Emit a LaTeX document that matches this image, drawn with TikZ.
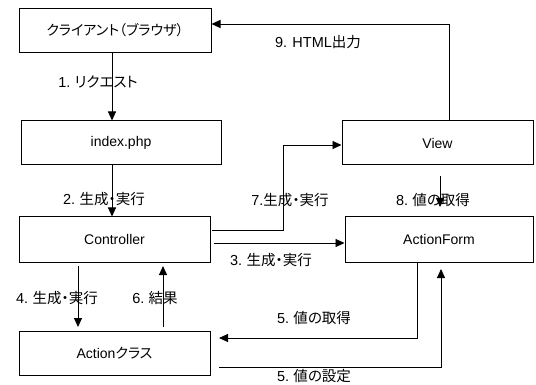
\documentclass[tikz,border=0pt]{standalone}
\usepackage{fontspec}
\setmainfont{Noto Sans CJK JP}[CharacterWidth=AlternateProportional]
\newfontfamily\latfont{Liberation Sans}
\newcommand{\lt}[1]{{\latfont #1}}
\usetikzlibrary{arrows.meta}
\begin{document}
\begin{tikzpicture}[x=1pt,y=-1pt,
  box/.style={draw,line width=1pt,minimum width=#1,minimum height=44pt,inner sep=0pt,font=\fontsize{14}{16}\selectfont},
  box/.default=192pt,
  lbl/.style={inner sep=0pt,font=\fontsize{14.5}{17}\selectfont},
  arr/.style={line width=0.9pt,-{Triangle[length=9pt,width=8pt]}}]
\useasboundingbox (0,0) rectangle (536,385);
\fill[white] (0,0) rectangle (536,385);
% boxes
\node[box=192pt] (client) at (115,30.5) {クライアント（ブラウザ）};
\node[box=200pt] (index) at (121,143) {\lt{index.php}};
\node[box=191pt,minimum height=45pt] (ctrl) at (114.5,239.5) {\lt{Controller}};
\node[box=191pt] (action) at (114.5,353) {\lt{Action}クラス};
\node[box=191pt] (view) at (437.5,143) {\lt{View}};
\node[box=188pt,minimum height=45pt] (form) at (439,239.5) {\lt{ActionForm}};
% free ends
\coordinate (e8s) at (440,176);
\coordinate (e8e) at (440,207);
\coordinate (e4s) at (78,266);
\coordinate (e4e) at (78,327);
\coordinate (e6s) at (163,327);
\coordinate (e6e) at (163,266);
\coordinate (e5g) at (219,338);
\coordinate (e5s) at (219,367);
\coordinate (e5t) at (441,269);
% connectors
\draw[arr] (112,0 |- client.south) -- (112,0 |- index.north);
\draw[arr] (112,0 |- index.south) -- (112,0 |- ctrl.north);
\draw[arr] (449,0 |- view.north) -- (449,24) -- (client.east |- 0,24);
\draw[arr] ([xshift=1pt]ctrl.east |- 0,230) -- (283,230) -- (283,145) -- (view.west |- 0,145);
\draw[arr] ([xshift=3pt]ctrl.east |- 0,243) -- (form.west |- 0,243);
\draw[arr] (e8s) -- (e8e);
\draw[arr] (e4s) -- (e4e);
\draw[arr] (e6s) -- (e6e);
\draw[arr] (417,0 |- form.south) -- (417,338) -- (e5g);
\draw[arr] (e5s) -- (441,367) -- (e5t);
% labels
\node[lbl] (l1) at (98,82) {\lt{1.} リクエスト};
\node[lbl] (l2) at (104,199) {\lt{2.} 生成・実行};
\node[lbl] (l4) at (57,298) {\lt{4.} 生成・実行};
\node[lbl] (l6) at (155,298) {\lt{6.} 結果};
\node[lbl] (l7) at (290,200) {\lt{7.}生成・実行};
\node[lbl] (l3) at (271,260) {\lt{3.} 生成・実行};
\node[lbl] (l8) at (433,200) {\lt{8.} 値の取得};
\node[lbl] (l9) at (318,42) {\lt{9. HTML}出力};
\node[lbl] (l5a) at (314,318) {\lt{5.} 値の取得};
\node[lbl] (l5b) at (314,376.5) {\lt{5.} 値の設定};
\end{tikzpicture}
\end{document}
